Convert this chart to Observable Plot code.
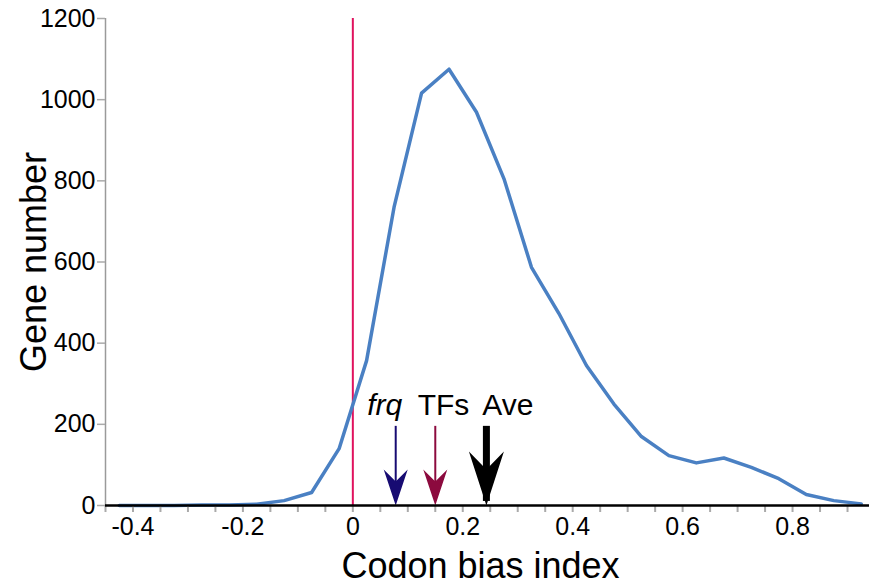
<!DOCTYPE html>
<html>
<head>
<meta charset="utf-8">
<script src="https://cdn.jsdelivr.net/npm/d3@7"></script>
<script src="https://cdn.jsdelivr.net/npm/@observablehq/plot@0.6"></script>
<style>
  html, body { margin: 0; padding: 0; background: #fff; }
  #chart svg { display: block; }
</style>
</head>
<body>
<div id="chart"></div>
<script>
// ---- data ----
const codonBias = [-0.425, -0.375, -0.325, -0.275, -0.225, -0.175, -0.125, -0.075, -0.025, 0.025,
                   0.075, 0.125, 0.175, 0.225, 0.275, 0.325, 0.375, 0.425, 0.475, 0.525,
                   0.575, 0.625, 0.675, 0.725, 0.775, 0.825, 0.875, 0.925];
const geneNumber = [0, 0, 0, 1, 1, 3, 12, 32, 140, 357,
                    735, 1016, 1075, 969, 805, 587, 473, 345, 250, 170,
                    123, 105, 117, 94, 66, 27, 12, 4];
const arrowLabels = ["frq", "TFs", "Ave"];
const arrowX = [0.078, 0.150, 0.243];
const labelX = [0.058, 0.165, 0.282];
const arrowTop = 195;
const labelY = 222;
const yTicks = [0, 200, 400, 600, 800, 1000, 1200];
const xTickLabels = [-0.4, -0.2, 0, 0.2, 0.4, 0.6, 0.8];
const xMinorTicks = [-0.45, -0.4, -0.35, -0.3, -0.25, -0.2, -0.15, -0.1, -0.05, 0, 0.05, 0.1, 0.15,
                     0.2, 0.25, 0.3, 0.35, 0.4, 0.45, 0.5, 0.55, 0.6, 0.65, 0.7, 0.75, 0.8, 0.85, 0.9];
const referenceLine = 0;

const curve = codonBias.map((x, i) => ({x, y: geneNumber[i]}));

// ---- styles ----
const headSmall = {draw(ctx) { ctx.moveTo(0, 0); ctx.lineTo(12, -36); ctx.lineTo(0, -24); ctx.lineTo(-12, -36); ctx.closePath(); }};
const headBig = {draw(ctx) { ctx.moveTo(0, 0); ctx.lineTo(17.5, -54); ctx.lineTo(0, -36); ctx.lineTo(-17.5, -54); ctx.closePath(); }};
const arrowStyles = [
  {color: "#170b72", shaft: 2, head: headSmall, fontStyle: "italic"},
  {color: "#8c0a3e", shaft: 2, head: headSmall, fontStyle: "normal"},
  {color: "#000000", shaft: 7, head: headBig, fontStyle: "normal"}
];

const arrowMarks = arrowLabels.flatMap((label, i) => {
  const s = arrowStyles[i];
  return [
    Plot.ruleX([arrowX[i]], {x: d => d, y1: () => arrowTop, y2: () => 10, stroke: s.color, strokeWidth: s.shaft}),
    Plot.dot([arrowX[i]], {x: d => d, y: () => 0, symbol: s.head, fill: s.color, stroke: "none"}),
    Plot.text([label], {x: () => labelX[i], y: () => labelY, text: d => d, fontSize: 30,
                        fontStyle: s.fontStyle, lineAnchor: "bottom", textAnchor: "middle", fill: "#000"})
  ];
});

const chart = Plot.plot({
  width: 869,
  height: 584,
  marginLeft: 105,
  marginRight: 0,
  marginTop: 18,
  marginBottom: 79,
  x: {domain: [-0.45, 0.94]},
  y: {domain: [0, 1200]},
  style: {fontFamily: "'Liberation Sans', Arial, Helvetica, sans-serif", color: "#000", background: "#fff"},
  marks: [
    Plot.ruleX([referenceLine], {y1: () => 0, y2: () => 1200, stroke: "#e0125e", strokeWidth: 2}),
    Plot.line(curve, {x: "x", y: "y", stroke: "#4a80c3", strokeWidth: 3.5}),
    ...arrowMarks,
    // y axis
    Plot.ruleX([-0.45], {y1: () => 0, y2: () => 1200, stroke: "#9a9a9a", strokeWidth: 1.5}),
    Plot.axisY({ticks: yTicks, tickSize: 8, tickPadding: 2, stroke: "#aaaaaa", strokeWidth: 1.5,
                fill: "#000", fontSize: 25, tickFormat: d => String(d), label: null}),
    // x axis
    Plot.axisX({ticks: xMinorTicks, tickSize: 7, stroke: "#aaaaaa", strokeWidth: 2, tickFormat: () => "", label: null}),
    Plot.axisX({ticks: xTickLabels, tickSize: 0, tickPadding: 12, fill: "#000", fontSize: 25,
                tickFormat: d => d === 0 ? "0" : d.toFixed(1), label: null}),
    Plot.ruleY([0], {stroke: "#000", strokeWidth: 2.5}),
    // axis titles
    Plot.text(["Gene number"], {frameAnchor: "left", text: d => d, rotate: -90, dx: -71, fontSize: 36,
                                textAnchor: "middle", lineAnchor: "middle", fill: "#000"}),
    Plot.text(["Codon bias index"], {frameAnchor: "bottom", text: d => d, dx: -7, dy: 72, fontSize: 36,
                                     textAnchor: "middle", lineAnchor: "bottom", fill: "#000"})
  ]
});
document.getElementById("chart").appendChild(chart);
</script>
</body>
</html>
